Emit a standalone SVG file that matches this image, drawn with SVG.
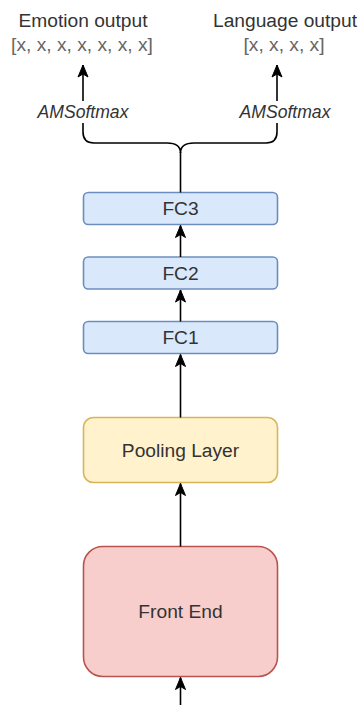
<svg xmlns="http://www.w3.org/2000/svg" width="359" height="705" viewBox="0 0 359 705">
  <style>
    .lbl { font-family: "Liberation Sans", Arial, sans-serif; font-size: 19.2px; fill: #333333; text-anchor: middle; dominant-baseline: central; }
    .vals { fill: #666666; }
    .loss { font-family: "Liberation Sans", Arial, sans-serif; font-size: 17.6px; font-style: italic; fill: #333333; text-anchor: middle; dominant-baseline: central; }
    .fc { fill: #dae8fc; stroke: #6c8ebf; stroke-width: 1.6; }
    .pool { fill: #fff2cc; stroke: #d6b656; stroke-width: 1.6; }
    .front { fill: #f8cecc; stroke: #b85450; stroke-width: 1.6; }
    .edge { fill: none; stroke: #000000; stroke-width: 1.6; }
  </style>
  <defs>
    <marker id="arrow" markerUnits="userSpaceOnUse" markerWidth="14" markerHeight="12" viewBox="-13 -6 14 12" refX="0" refY="0" orient="auto">
      <path d="M0,0 L-12,5 L-9,0 L-12,-5 Z" fill="#000000" stroke="#000000" stroke-width="1"/>
    </marker>
  </defs>

  <rect width="359" height="705" fill="#ffffff"/>

  <!-- output heads -->
  <g id="emotion-output">
    <text class="lbl" x="83" y="20">Emotion output</text>
    <text class="lbl vals" x="82" y="44">[x, x, x, x, x, x, x]</text>
  </g>
  <g id="language-output">
    <text class="lbl" x="285" y="20">Language output</text>
    <text class="lbl vals" x="284" y="44">[x, x, x, x]</text>
  </g>

  <!-- branching brace -->
  <g id="brace">
    <path class="edge" d="M83,123 L83,132 Q83,143 94,143 L167,143 Q180.5,143 180.5,153 Q180.5,143 194,143 L266,143 Q277,143 277,132 L277,123"/>
  </g>

  <g id="fc3">
    <rect class="fc" x="83.5" y="192.5" width="194" height="32" rx="4.8"/>
    <text class="lbl" x="180.5" y="208.5">FC3</text>
  </g>
  <g id="fc2">
    <rect class="fc" x="83.5" y="257" width="194" height="32" rx="4.8"/>
    <text class="lbl" x="180.5" y="273">FC2</text>
  </g>
  <g id="fc1">
    <rect class="fc" x="83.5" y="321.5" width="194" height="32" rx="4.8"/>
    <text class="lbl" x="180.5" y="337.5">FC1</text>
  </g>
  <g id="pooling-layer">
    <rect class="pool" x="83.5" y="417.5" width="194" height="65" rx="9.75"/>
    <text class="lbl" x="180.5" y="450">Pooling Layer</text>
  </g>
  <g id="front-end">
    <rect class="front" x="83.5" y="546.5" width="194" height="130" rx="19.4"/>
    <text class="lbl" x="180.5" y="611.5">Front End</text>
  </g>

  <!-- connectors -->
  <g id="connectors">
    <path class="edge" d="M83,101 L83,65" marker-end="url(#arrow)"/>
    <path class="edge" d="M277,101 L277,65" marker-end="url(#arrow)"/>
    <path class="edge" d="M180.5,192.5 L180.5,152"/>
    <path class="edge" d="M180.5,257 L180.5,225.5" marker-end="url(#arrow)"/>
    <path class="edge" d="M180.5,321.5 L180.5,290" marker-end="url(#arrow)"/>
    <path class="edge" d="M180.5,417.5 L180.5,354.5" marker-end="url(#arrow)"/>
    <path class="edge" d="M180.5,546.5 L180.5,483.5" marker-end="url(#arrow)"/>
    <path class="edge" d="M180.5,705 L180.5,677.5" marker-end="url(#arrow)"/>
  </g>

  <!-- loss labels on the output arrows -->
  <g id="loss-labels">
    <text class="loss" x="83" y="111.5">AMSoftmax</text>
    <text class="loss" x="285" y="111.5">AMSoftmax</text>
  </g>
</svg>
